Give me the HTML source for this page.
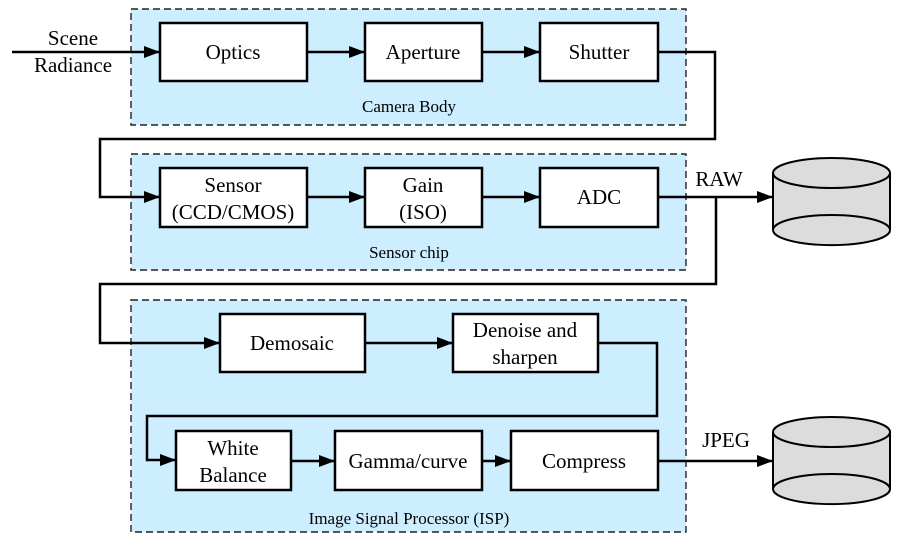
<!DOCTYPE html>
<html><head><style>body{margin:0;background:#fff}svg{display:block}text{font-family:"Liberation Serif","Times New Roman",Times,"DejaVu Serif",serif}</style></head><body>
<svg width="919" height="548" xmlns="http://www.w3.org/2000/svg">
<defs><marker id="b" markerWidth="16" markerHeight="12" refX="16" refY="6" orient="auto" markerUnits="userSpaceOnUse"><path d="M0,0 L16,6 L0,12 z" fill="#000"/></marker></defs>
<g fill="#cceeff" stroke="#222" stroke-width="1.4" stroke-dasharray="7,4">
<rect x="131" y="9" width="555" height="116"/>
<rect x="131" y="154" width="555" height="116"/>
<rect x="131" y="300" width="555" height="232"/>
</g>
<g font-size="17" text-anchor="middle" fill="#000">
<text x="409" y="112">Camera Body</text>
<text x="409" y="258">Sensor chip</text>
<text x="409" y="524">Image Signal Processor (ISP)</text>
</g>
<g fill="none" stroke="#000" stroke-width="2.5">
<path d="M12,52 H160" marker-end="url(#b)"/>
<path d="M307,52 H365" marker-end="url(#b)"/>
<path d="M482,52 H540" marker-end="url(#b)"/>
<path d="M658,52 H715 V139 H100 V197 H160" marker-end="url(#b)"/>
<path d="M307,197 H365" marker-end="url(#b)"/>
<path d="M482,197 H540" marker-end="url(#b)"/>
<path d="M658,197 H773" marker-end="url(#b)"/>
<path d="M716,197 V284 H100 V343 H220" marker-end="url(#b)"/>
<path d="M365,343 H453" marker-end="url(#b)"/>
<path d="M598,343 H657 V416 H147 V460 H176" marker-end="url(#b)"/>
<path d="M291,461 H335" marker-end="url(#b)"/>
<path d="M482,461 H511" marker-end="url(#b)"/>
<path d="M658,461 H773" marker-end="url(#b)"/>
</g>
<g fill="#fff" stroke="#000" stroke-width="2.5">
<rect x="160" y="23" width="147" height="58"/>
<rect x="365" y="23" width="117" height="58"/>
<rect x="540" y="23" width="118" height="58"/>
<rect x="160" y="168" width="147" height="59"/>
<rect x="365" y="168" width="117" height="59"/>
<rect x="540" y="168" width="118" height="59"/>
<rect x="220" y="314" width="145" height="58"/>
<rect x="453" y="314" width="145" height="58"/>
<rect x="176" y="431" width="115" height="59"/>
<rect x="335" y="431" width="147" height="59"/>
<rect x="511" y="431" width="147" height="59"/>
</g>
<g font-size="21" text-anchor="middle" fill="#000">
<text x="73" y="45">Scene</text><text x="73" y="72">Radiance</text>
<text x="233" y="59">Optics</text>
<text x="423" y="59">Aperture</text>
<text x="599" y="59">Shutter</text>
<text x="233" y="192">Sensor</text><text x="233" y="219">(CCD/CMOS)</text>
<text x="423" y="192">Gain</text><text x="423" y="219">(ISO)</text>
<text x="599" y="204">ADC</text>
<text x="292" y="350">Demosaic</text>
<text x="525" y="337">Denoise and</text><text x="525" y="364">sharpen</text>
<text x="233" y="455">White</text><text x="233" y="482">Balance</text>
<text x="408" y="468">Gamma/curve</text>
<text x="584" y="468">Compress</text>
<text x="719" y="186">RAW</text>
<text x="726" y="447">JPEG</text>
</g>
<g fill="#dcdcdc" stroke="#000" stroke-width="2">
<path d="M773,173 V230 A58,15 0 0 0 890,230 V173"/>
<ellipse cx="831.5" cy="173" rx="58.5" ry="15"/>
<path d="M773,230 A58.5,15 0 0 1 890,230" fill="none"/>
<path d="M773,432 V489 A58,15 0 0 0 890,489 V432"/>
<ellipse cx="831.5" cy="432" rx="58.5" ry="15"/>
<path d="M773,489 A58.5,15 0 0 1 890,489" fill="none"/>
</g>
</svg>
</body></html>
